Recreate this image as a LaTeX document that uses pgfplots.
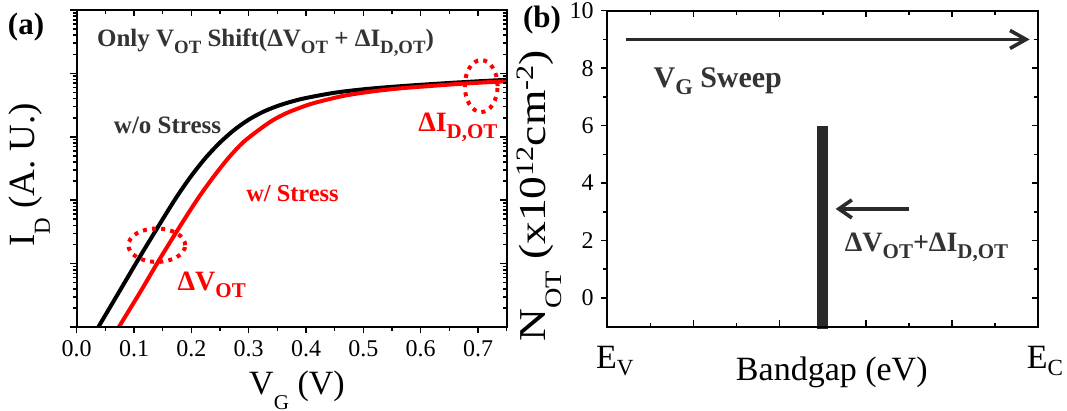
\documentclass[border=0pt]{standalone}
\usepackage{fontspec}
\setmainfont{Liberation Serif}
\usepackage{graphicx}
\usepackage{pgfplots}
\pgfplotsset{compat=1.18}
\usetikzlibrary{arrows.meta}
\definecolor{dgray}{HTML}{333333}
\definecolor{barc}{HTML}{2A2A2A}
\definecolor{sred}{HTML}{FF0000}

% subscripts: axis labels hang below the baseline, bold notes drop a little
\newcommand{\lsub}[1]{\raisebox{-0.42em}{\scalebox{0.62}{#1}}}
\newcommand{\bsub}[1]{\raisebox{-0.25em}{\scalebox{0.75}{#1}}}
\newcommand{\esub}[1]{\raisebox{-0.2em}{\scalebox{0.68}{#1}}}
\newcommand{\ssup}[1]{\raisebox{0.32em}{\scalebox{0.66}{#1}}}

% transfer curves, log current in arbitrary units
\pgfplotstableread{
V I
0.030 0.7586
0.0378 1
0.075 3.707
0.110 12.74
0.150 50.12
0.175 114.8
0.200 242.7
0.225 466.7
0.250 812.8
0.275 1288
0.300 1862
0.325 2472
0.350 3055
0.375 3597
0.400 4093
0.450 4955
0.500 5610
0.550 6138
0.600 6607
0.650 7063
0.700 7499
0.750 7925
}\nostress
\pgfplotstableread{
V I
0.066 0.7586
0.0736 1
0.112 3.707
0.147 12.74
0.188 50.12
0.214 114.8
0.240 242.7
0.265 466.7
0.290 812.8
0.315 1230
0.340 1778
0.365 2344
0.390 2884
0.415 3428
0.465 4416
0.515 5188
0.565 5821
0.615 6310
0.665 6808
0.715 7244
0.750 7516
}\stress

\pgfplotsset{
  base/.style={
    scale only axis,
    anchor=south west,
    axis line style={line width=0.9pt},
    tick style={line width=0.8pt, black},
    major tick length=3.2pt,
    minor tick length=2pt,
    tick label style={font=\fontsize{12}{14}\selectfont},
    label style={font=\fontsize{17}{20}\selectfont},
  },
  panela/.style={base,
    at={(38.35pt,42pt)}, width=215pt, height=158.5pt,
    xmin=0, xmax=0.75, ymin=1, ymax=1e5,
    xtick={0,0.1,0.2,0.3,0.4,0.5,0.6,0.7},
    minor xtick={0.05,0.15,0.25,0.35,0.45,0.55,0.65,0.75},
    ytick={1,10,100,1000,10000,100000},
    minor ytick={2,3,4,5,6,7,8,9,20,30,40,50,60,70,80,90,200,300,400,500,600,700,800,900,2000,3000,4000,5000,6000,7000,8000,9000,20000,30000,40000,50000,60000,70000,80000,90000},
    yticklabels={},
  },
  panelb/.style={base,
    at={(303.6pt,42.15pt)}, width=215.55pt, height=158pt,
    xmin=0, xmax=10, ymin=-1, ymax=10,
    ytick={0,2,4,6,8,10}, minor ytick={1,3,5,7,9},
    yticklabel style={/pgf/number format/assume math mode=true},
  },
}

\begin{document}
\begin{tikzpicture}
\path[use as bounding box] (0,0) rectangle (533.5pt,205.5pt);

% ---------- (a) I_D - V_G ----------
\begin{axis}[ymode=log, panela,
    xtick pos=bottom, ytick pos=left, tick align=outside,
    xticklabels={0.0,0.1,0.2,0.3,0.4,0.5,0.6,0.7},
    xlabel={V\lsub{G} (V)},
    xlabel style={at={(axis description cs:0.5123,-0.2145)}, anchor=base},
    ylabel={I\lsub{D} (A.\ U.)},
    ylabel style={at={(axis description cs:-0.0984,0.48)}, anchor=base, font=\fontsize{18.5}{21}\selectfont},
  ]
  \addplot[black, line width=2pt, smooth] table[x=V, y=I] {\nostress};
  \addplot[sred, line width=2pt, smooth] table[x=V, y=I] {\stress};
\end{axis}
\begin{axis}[ymode=log, panela,
    xtick pos=top, ytick pos=right, tick align=inside,
    xticklabels={}, clip=false,
  ]
  \node[anchor=base west, text=dgray, font=\bfseries\fontsize{12.5}{15}\selectfont]
    at (rel axis cs:0.031,0.884) {Only V\bsub{OT} Shift(ΔV\bsub{OT} + ΔI\bsub{D,OT})};
  \node[anchor=base west, text=dgray, font=\bfseries\fontsize{12.5}{15}\selectfont]
    at (rel axis cs:0.0703,0.610) {w/o Stress};
  \node[anchor=base west, text=sred, font=\bfseries\fontsize{12.2}{15}\selectfont]
    at (rel axis cs:0.378,0.3946) {w/ Stress};
  \node[anchor=base west, text=sred, font=\bfseries\fontsize{14}{16}\selectfont]
    at (rel axis cs:0.2184,0.1158) {ΔV\bsub{OT}};
  \node[anchor=base west, text=sred, font=\bfseries\fontsize{14}{16}\selectfont]
    at (rel axis cs:0.778,0.6158) {ΔI\bsub{D,OT}};
  \draw[sred, line width=2pt, dash pattern=on 2pt off 2.6pt]
    (rel axis cs:0.1863,0.258) ellipse [x radius=14.2pt, y radius=8.35pt];
  \draw[sred, line width=2pt, dash pattern=on 2pt off 2.6pt]
    (rel axis cs:0.9407,0.760) ellipse [x radius=8.2pt, y radius=13pt];
\end{axis}
\node[font=\bfseries\fontsize{15.5}{18}\selectfont] at (13pt,192pt) {(a)};

% ---------- (b) trap density across the gap ----------
\begin{axis}[panelb,
    xtick={2,4,6,8}, minor xtick={1,3,5,7,9}, xticklabels={},
    xtick pos=both, ytick pos=right, tick align=inside,
    yticklabels={}, clip=false,
    xlabel={Bandgap (eV)},
    xlabel style={at={(axis description cs:0.521,-0.1687)}, anchor=base},
  ]
  \addplot[barc, line width=5.65pt] coordinates {(5,-1.07) (5,6)};
  \draw[barc, line width=1.8pt, -{Straight Barb[length=8pt,width=9pt]}]
    (axis cs:0.43,9) -- (axis cs:9.8,9);
  \draw[barc, line width=1.8pt, -{Straight Barb[length=6.5pt,width=9pt]}]
    (axis cs:7.0,3.1) -- (axis cs:5.3,3.1);
  \node[anchor=base west, text=dgray, font=\bfseries\fontsize{15}{18}\selectfont]
    at (axis cs:0.912,7.33) {V\bsub{G} Sweep};
  \node[anchor=base west, text=dgray, font=\bfseries\fontsize{14}{16}\selectfont]
    at (axis cs:5.35,1.63) {ΔV\bsub{OT}+ΔI\bsub{D,OT}};
  \node[anchor=base west, font=\fontsize{17}{20}\selectfont]
    at (axis description cs:-0.042,-0.1316) {E\esub{V}};
  \node[anchor=base west, font=\fontsize{17}{20}\selectfont]
    at (axis description cs:0.957,-0.1316) {E\esub{C}};
\end{axis}
\begin{axis}[panelb,
    xtick=\empty, ytick pos=left, tick align=outside,
    ylabel={\scalebox{1.2}[1]{N\lsub{OT} (x10\ssup{12}cm\ssup{-2})}},
    ylabel style={at={(axis description cs:-0.143,0.4136)}, anchor=base, font=\fontsize{19}{22}\selectfont},
  ]
\end{axis}
\node[font=\bfseries\fontsize{15.5}{18}\selectfont] at (271pt,195.5pt) {(b)};
\end{tikzpicture}
\end{document}
